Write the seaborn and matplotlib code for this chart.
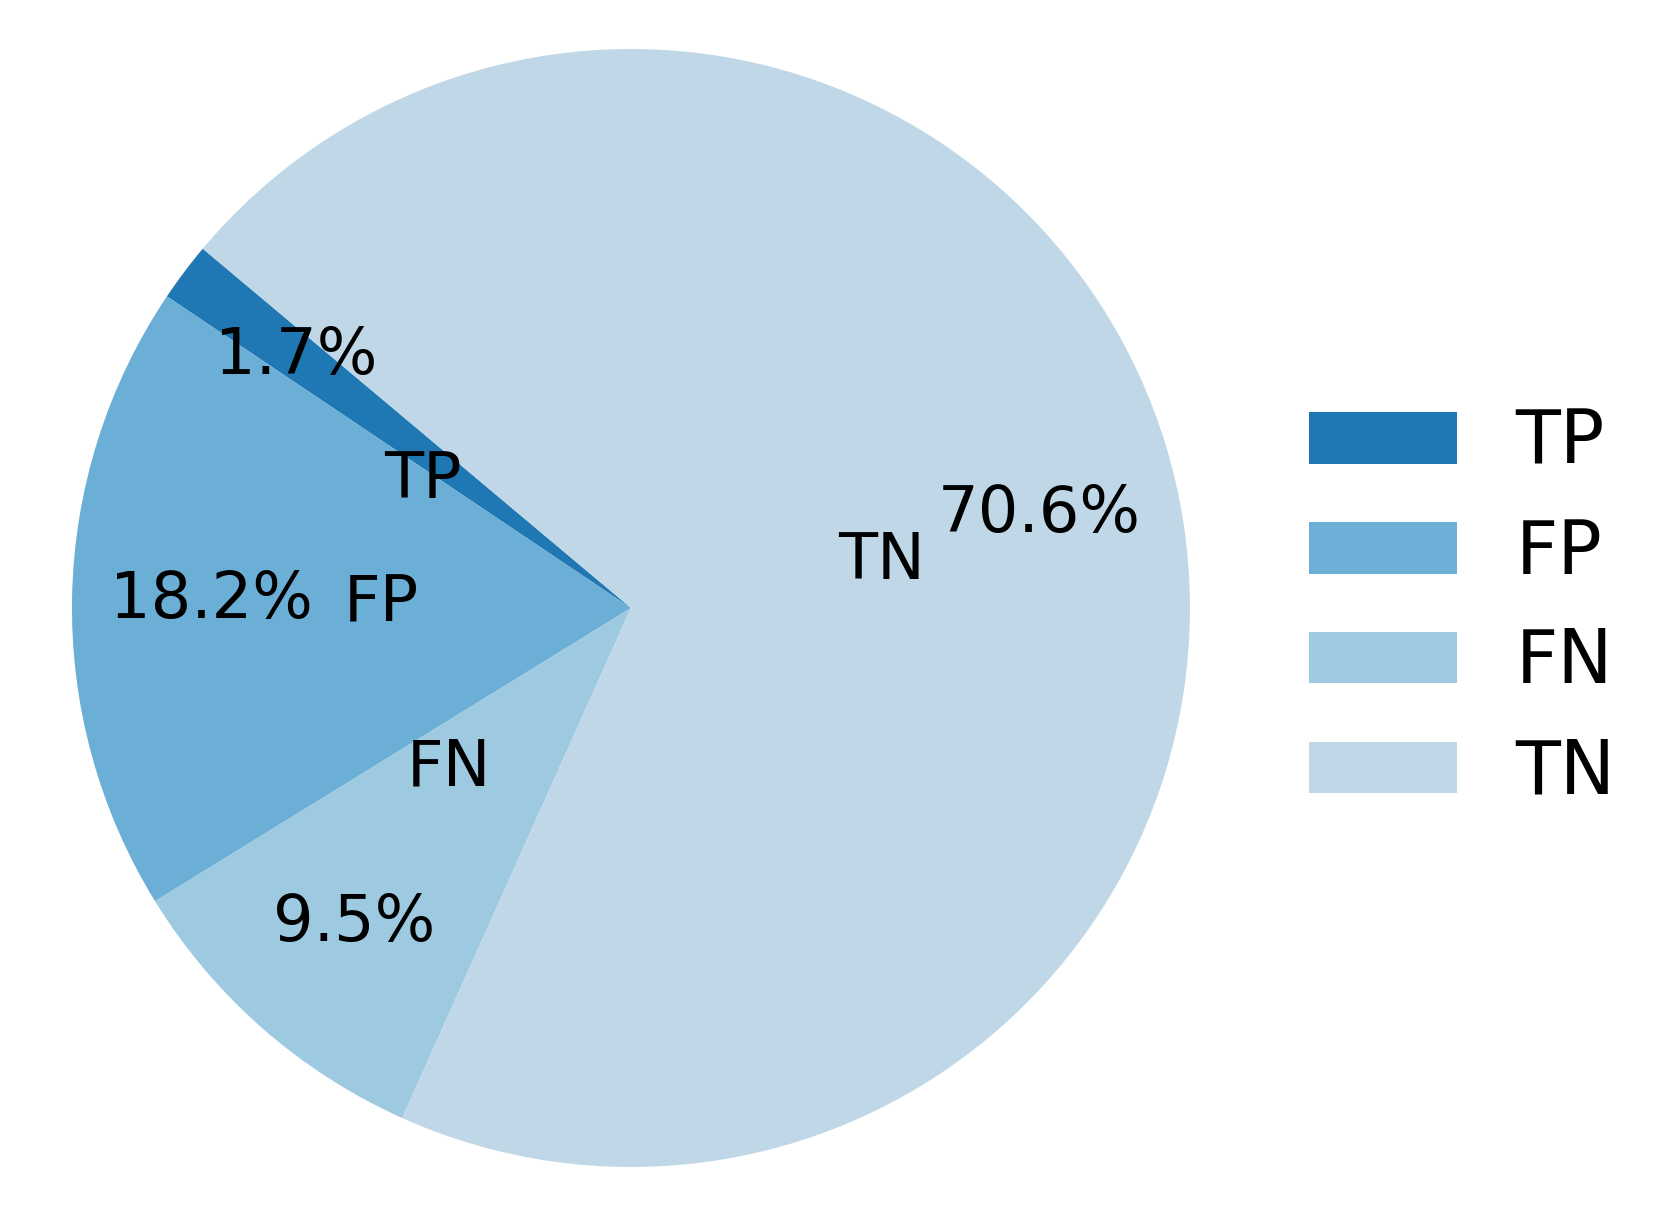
import matplotlib
matplotlib.use("Agg")
import matplotlib.pyplot as plt
import seaborn as sns

labels = ['TP', 'FP', 'FN', 'TN']
shares = [1.7, 18.2, 9.5, 70.6]
colors = sns.color_palette(['#1f77b4', '#6baed6', '#9ecae1', '#bfd7e6'])

sns.set_style('white')
plt.rcParams['font.family'] = ['DejaVu Sans']
plt.rcParams['text.color'] = 'black'

fig = plt.figure(figsize=(8.31, 6.08), dpi=200)
ax = fig.add_axes([0.0433, 0.0403, 0.6727, 0.9194])

wedges, texts, autotexts = ax.pie(shares, labels=labels, colors=colors,
                                  autopct='%1.1f%%', startangle=140,
                                  labeldistance=0.38, pctdistance=0.75,
                                  wedgeprops={'linewidth': 0},
                                  textprops={'fontsize': 23, 'color': 'black'})
ax.set_xlim(-1, 1)
ax.set_ylim(-1, 1)
ax.set_aspect('auto')

leg = fig.legend(wedges, labels, loc='center left', bbox_to_anchor=(0.748, 0.5),
                 frameon=False, fontsize=26.5)
for t in leg.get_texts():
    t.set_color('black')

fig.savefig('out.png', dpi=200)
